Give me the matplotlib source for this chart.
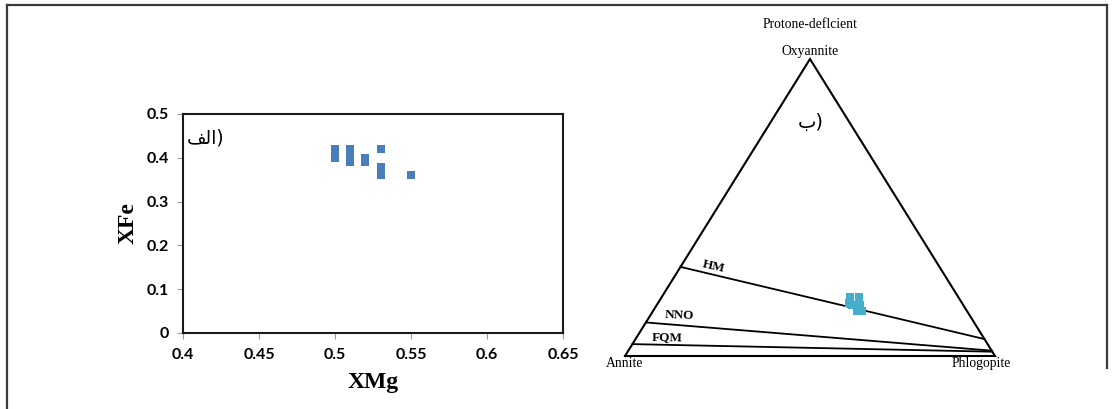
import numpy as np
import matplotlib
matplotlib.use("Agg")
import matplotlib.pyplot as plt
from matplotlib.lines import Line2D
from matplotlib.ticker import FuncFormatter, MultipleLocator

# ---- data (left panel: XMg vs XFe) ----
xmg = [0.50, 0.50, 0.50, 0.51, 0.51, 0.51, 0.51, 0.52, 0.52,
       0.53, 0.53, 0.53, 0.53, 0.55]
xfe = [0.42, 0.41, 0.40, 0.42, 0.41, 0.40, 0.39, 0.40, 0.39,
       0.42, 0.38, 0.37, 0.36, 0.36]

# ---- data (right panel: ternary, fractions of Oxyannite / Phlogopite) ----
oxy = [0.199, 0.199, 0.172, 0.172, 0.150, 0.150, 0.178]
phl = [0.509, 0.533, 0.528, 0.550, 0.552, 0.566, 0.516]

# buffer lines (oxy, phl) start -> end
buffers = {
    "HM":  [(0.300, 0.000), (0.057, 0.943)],
    "NNO": [(0.113, 0.000), (0.018, 0.982)],
    "FQM": [(0.040, 0.000), (0.0145, 0.9855)],
}


def tern(o, p):
    o = np.asarray(o, dtype=float)
    p = np.asarray(p, dtype=float)
    return p + o / 2.0, o * np.sqrt(3) / 2.0


W, H = 1113, 409
fig = plt.figure(figsize=(W / 100, H / 100), dpi=100)

# outer frame
frame_c = "#3a3a3a"
fig.add_artist(Line2D([7 / W, 7 / W], [0, 1 - 5 / H], transform=fig.transFigure, color=frame_c, lw=1.6))
fig.add_artist(Line2D([7 / W, 1107 / W], [1 - 5 / H, 1 - 5 / H], transform=fig.transFigure, color=frame_c, lw=1.6))
fig.add_artist(Line2D([1107 / W, 1107 / W], [1 - 368 / H, 1 - 5 / H], transform=fig.transFigure, color=frame_c, lw=1.6))

# ---------------- left panel ----------------
ax = fig.add_axes([183 / W, 1 - 333 / H, 380 / W, 219 / H])
ax.plot(xmg, xfe, ls="none", marker="s", ms=6, color="#4A7EBB", mew=0)
ax.set_xlim(0.4, 0.65)
ax.set_ylim(0, 0.5)
ax.xaxis.set_major_locator(MultipleLocator(0.05))
ax.yaxis.set_major_locator(MultipleLocator(0.1))
fmt = FuncFormatter(lambda v, pos: "%g" % round(v, 2))
ax.xaxis.set_major_formatter(fmt)
ax.yaxis.set_major_formatter(fmt)
for s in ax.spines.values():
    s.set_linewidth(1.5)
    s.set_color("#1a1a1a")
ax.tick_params(direction="out", length=4, width=0.8, color="#9a9a9a")
ax.tick_params(axis="y", pad=6)
ax.tick_params(axis="x", pad=7)
for lab in ax.get_xticklabels() + ax.get_yticklabels():
    lab.set_fontfamily("Lato")
    lab.set_fontweight("bold")
    lab.set_fontsize(11.5)
ax.set_xlabel("XMg", family="Liberation Serif", weight="bold", fontsize=17, labelpad=7)
ax.set_ylabel("XFe", family="Liberation Serif", weight="bold", fontsize=17, labelpad=6)
ax.text(0.01, 0.89, "\uFED2\uFEDF\uFE8D)", transform=ax.transAxes, ha="left", va="center",
        family="DejaVu Sans", fontsize=13.5)

# ---------------- right panel (ternary) ----------------
tx = fig.add_axes([625 / W, 1 - 356 / H, 370 / W, 297 / H])
tx.set_xlim(0, 1)
tx.set_ylim(0, np.sqrt(3) / 2)
tx.axis("off")

cx, cy = tern([0, 0, 1, 0], [0, 1, 0, 0])
tx.plot(cx, cy, color="black", lw=1.5, clip_on=False, solid_joinstyle="miter")

for name, ((o0, p0), (o1, p1)) in buffers.items():
    bx, by = tern([o0, o1], [p0, p1])
    tx.plot(bx, by, color="black", lw=1.3, clip_on=False)

dx, dy = tern(oxy, phl)
tx.plot(dx, dy, ls="none", marker="s", ms=5.5, color="#45AFCB", mew=0, clip_on=False)

serif = "Liberation Serif"
ax_x, ax_y = tern(1, 0)
tx.annotate("Oxyannite", (ax_x, ax_y), xytext=(0, 1), textcoords="offset points",
            ha="center", va="bottom", family=serif, fontsize=9.8)
tx.annotate("Protone-deflcient", (ax_x, ax_y), xytext=(0, 20), textcoords="offset points",
            ha="center", va="bottom", family=serif, fontsize=9.8)
an_x, an_y = tern(0, 0)
tx.annotate("Annite", (an_x, an_y), xytext=(0, -1), textcoords="offset points",
            ha="center", va="top", family=serif, fontsize=9.8)
ph_x, ph_y = tern(0, 1)
tx.annotate("Phlogopite", (ph_x, ph_y), xytext=(-10, -1), textcoords="offset points",
            ha="center", va="top", family=serif, fontsize=9.8)

tx.text(0.238, 0.300, "HM", transform=tx.transAxes, ha="center", va="center",
        family=serif, weight="bold", fontsize=9.5, rotation=-13)
tx.text(0.146, 0.135, "NNO", transform=tx.transAxes, ha="center", va="center",
        family=serif, weight="bold", fontsize=9.5, rotation=-2)
tx.text(0.114, 0.063, "FQM", transform=tx.transAxes, ha="center", va="center",
        family=serif, weight="bold", fontsize=9.5, rotation=-1)
tx.text(0.503, 0.785, "\uFE8F)", transform=tx.transAxes, ha="center", va="center",
        family="DejaVu Sans", fontsize=14)

fig.savefig("out.png", dpi=100)
